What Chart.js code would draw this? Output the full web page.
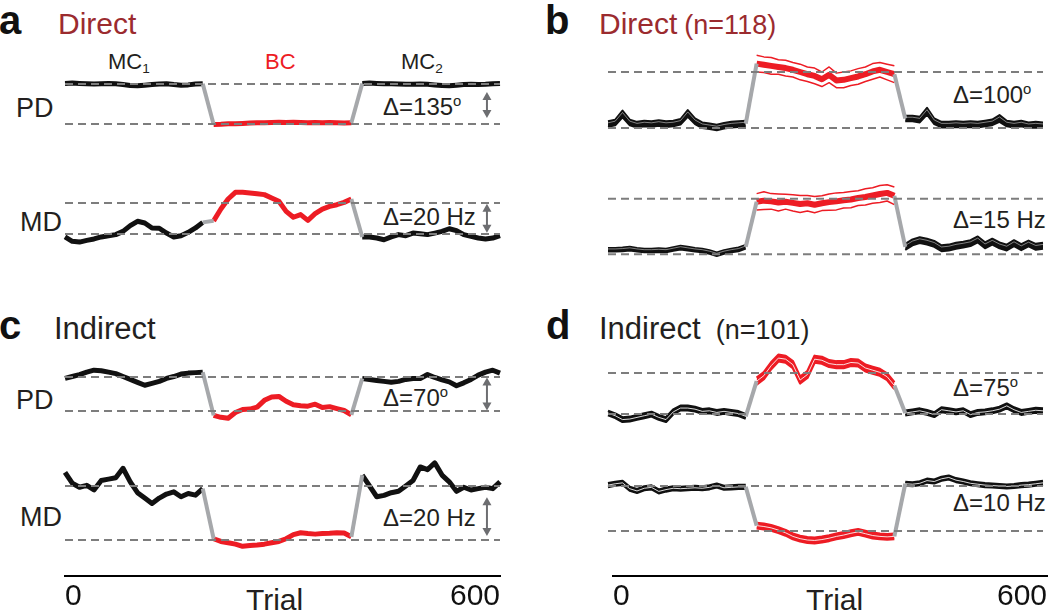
<!DOCTYPE html>
<html lang="en">
<head>
<meta charset="UTF-8">
<title>Direct / Indirect tuning changes</title>
<script src="https://cdn.jsdelivr.net/npm/chart.js"></script>
<style>
  body { margin: 0; background: #fff; }
  #fig { position: relative; width: 1050px; height: 614px; overflow: hidden;
         font-family: "Liberation Sans", Arial, sans-serif; color: #231f20; }
  #fig canvas { position: absolute; }
  .t { position: absolute; white-space: nowrap; line-height: 1; }
  .letter { font-weight: bold; font-size: 40px; color: #111; }
  .title { font-size: 30px; }
  .n { font-size: 27px; }
  .lab { font-size: 27px; }
  .small { font-size: 22px; }
  .delta { font-size: 24px; }
  .red { color: #ed1c24; }
  .dred { color: #9b2b2f; }
  sup { font-size: 0.62em; vertical-align: 0.6em; line-height: 0; }
  sub { font-size: 0.62em; vertical-align: -0.3em; line-height: 0; }
</style>
</head>
<body>
<div id="fig">
  <!-- panel a -->
  <div class="t letter" style="left:-1px; top:0px;">a</div>
  <div class="t title dred" style="left:58px; top:9px;">Direct</div>
  <div class="t small" style="left:108px; top:51px;">MC<sub>1</sub></div>
  <div class="t small red" style="left:265px; top:51px;">BC</div>
  <div class="t small" style="left:401px; top:51px;">MC<sub>2</sub></div>
  <div class="t lab" style="left:16px; top:95px;">PD</div>
  <div class="t delta" style="left:383px; top:95px;">&Delta;=135<sup>o</sup></div>
  <div class="t lab" style="left:20px; top:209px;">MD</div>
  <div class="t delta" style="left:383px; top:205px;">&Delta;=20 Hz</div>

  <!-- panel b -->
  <div class="t letter" style="left:545px; top:0px;">b</div>
  <div class="t title dred" style="left:599px; top:9px;">Direct<span class="n" style="margin-left:7px;">(n=118)</span></div>
  <div class="t delta" style="left:953px; top:83px;">&Delta;=100<sup>o</sup></div>
  <div class="t delta" style="left:953px; top:208px;">&Delta;=15 Hz</div>

  <!-- panel c -->
  <div class="t letter" style="left:-1px; top:305px;">c</div>
  <div class="t title" style="left:54px; top:313px; font-size:31px;">Indirect</div>
  <div class="t lab" style="left:16px; top:387px;">PD</div>
  <div class="t delta" style="left:383px; top:386px;">&Delta;=70<sup>o</sup></div>
  <div class="t lab" style="left:20px; top:504px;">MD</div>
  <div class="t delta" style="left:383px; top:506px;">&Delta;=20 Hz</div>
  <div class="t" style="left:246px; top:585px; font-size:30px;">Trial</div>

  <!-- panel d -->
  <div class="t letter" style="left:546px; top:305px;">d</div>
  <div class="t title" style="left:599px; top:313px; font-size:31px;">Indirect<span class="n" style="margin-left:15px;">(n=101)</span></div>
  <div class="t delta" style="left:953px; top:376px;">&Delta;=75<sup>o</sup></div>
  <div class="t delta" style="left:953px; top:491px;">&Delta;=10 Hz</div>
  <div class="t" style="left:806px; top:585px; font-size:30px;">Trial</div>
</div>

<script>
  // trial positions of each block
  const mc1Trials = [0, 10, 20, 30, 40, 50, 60, 70, 80, 90, 100, 110, 120, 130, 140, 150, 160, 170, 180, 190];
  const bcTrials = [205, 215, 225, 235, 245, 255, 265, 275, 285, 295, 305, 315, 325, 335, 345, 355, 365, 375, 385, 395];
  const mc2Trials = [410, 420, 430, 440, 450, 460, 470, 480, 490, 500, 510, 520, 530, 540, 550, 560, 570, 580, 590, 600];
  const trialTicks = [0, 600];

  // a: Direct, single example cell (PD in deg, MD in Hz, relative to MC baseline)
  const aPdLevels = [-135, 0];
  const aPdMc1 = [2, 3, 2, 1, 0, 1, 2, 1, -2, -5, -6, -4, -2, 0, 1, -2, -4, -3, 0, 1];
  const aPdBc = [-137, -136, -134, -134, -133, -132, -131, -131, -130, -129, -130, -129, -130, -131, -130, -131, -130, -131, -132, -131];
  const aPdMc2 = [2, 3, 2, 1, 1, 0, -1, -1, 0, -1, -3, -5, -6, -4, -2, -1, -2, -1, 1, 2];
  const aMdLevels = [0, 20];
  const aMdMc1 = [-1.9, -4.7, -5.2, -4.1, -3.2, -1.9, -1.1, -0.4, 1.7, 5.4, 8.2, 7.1, 3.9, 3.7, 0.6, -1.9, -1.1, 1.1, 3.9, 7.5];
  const aMdBc = [8.5, 16.1, 22.6, 26.9, 26.9, 26.5, 26.0, 25.4, 23.2, 21.1, 14.6, 10.8, 12.5, 8.8, 13.1, 16.1, 17.8, 18.9, 20.4, 22.6];
  const aMdMc2 = [-1.9, -1.9, -2.6, -3.7, -1.9, -0.4, -1.1, 0.6, 0.2, -0.4, 0.6, 1.7, 3.4, 2.2, -0.4, -1.5, -2.6, -3.2, -2.6, -1.1];

  // b: Direct population mean +/- SEM (n=118)
  const bPdLevels = [0, 100];
  const bPdMc1 = [7, 10, 25, 10, 6, 8, 7, 9, 7, 8, 11, 26, 12, 5, 3, 1, 4, 6, 7, 8];
  const bPdMc1Sem = [5, 5, 6, 5, 5, 5, 5, 5, 5, 5, 5, 6, 5, 5, 5, 5, 5, 5, 5, 5];
  const bPdBc = [115, 113, 111, 109, 107, 104, 100, 96, 93, 87, 95, 85, 86, 89, 92, 96, 101, 104, 100, 96];
  const bPdBcSem = [15, 14, 15, 13, 14, 13, 14, 13, 14, 13, 14, 13, 14, 13, 14, 13, 14, 13, 14, 15];
  const bPdMc2 = [17, 17, 15, 30, 12, 6, 6, 7, 6, 7, 6, 8, 10, 17, 8, 6, 8, 5, 6, 5];
  const bPdMc2Sem = [5, 5, 5, 6, 5, 5, 5, 5, 5, 5, 5, 5, 5, 6, 5, 5, 5, 5, 5, 5];
  const bMdLevels = [0, 15];
  const bMdMc1 = [1.2, 1.2, 1.3, 1.5, 1.2, 1.0, 1.0, 1.1, 1.0, 1.4, 1.8, 1.5, 1.2, 1.0, 0.6, 0.0, 0.6, 1.0, 1.3, 2.0];
  const bMdMc1Sem = [0.5, 0.5, 0.5, 0.5, 0.5, 0.5, 0.5, 0.5, 0.5, 0.5, 0.5, 0.5, 0.5, 0.5, 0.5, 0.5, 0.5, 0.5, 0.5, 0.5];
  const bMdBc = [14.2, 14.5, 14.3, 14.0, 14.2, 13.9, 13.6, 13.8, 13.4, 13.8, 14.1, 14.3, 14.6, 14.8, 15.2, 15.5, 15.9, 16.3, 16.6, 15.8];
  const bMdBcSem = [2.2, 2.4, 2.1, 2.3, 2.0, 2.2, 2.3, 2.1, 2.2, 2.0, 2.2, 2.3, 2.1, 2.2, 2.0, 2.2, 2.1, 2.3, 2.2, 2.4];
  const bMdMc2 = [2.0, 3.2, 3.8, 3.4, 2.8, 1.6, 1.8, 2.3, 2.6, 3.0, 4.0, 2.4, 3.4, 2.4, 1.8, 3.0, 1.9, 2.9, 2.0, 2.3];
  const bMdMc2Sem = [0.8, 0.8, 0.8, 0.8, 0.8, 0.8, 0.8, 0.8, 0.8, 0.8, 0.8, 0.8, 0.8, 0.8, 0.8, 0.8, 0.8, 0.8, 0.8, 0.8];

  // c: Indirect, single example cell
  const cPdLevels = [-70, 0];
  const cPdMc1 = [-3, 1, 5, 10, 14, 13, 10, 7, 1, -5, -11, -17, -13, -9, -3, 1, 6, 8, 9, 10];
  const cPdBc = [-79, -83, -85, -73, -67, -66, -62, -48, -41, -40, -50, -57, -59, -60, -56, -63, -61, -65, -69, -78];
  const cPdMc2 = [-3, -5, -7, -9, -11, -9, -5, -3, -3, 5, -1, -6, -10, -18, -12, -5, 4, 10, 14, 8];
  const cMdLevels = [-20, 0];
  const cMdMc1 = [5, 1, -0.5, 0.2, -1.5, 2, 2.5, 3, 6.5, 1.5, -2.5, -4.5, -6.5, -4.5, -3, -2.2, -4, -2.8, -3.4, -1];
  const cMdBc = [-19.5, -20.5, -21, -21.5, -22.3, -22, -21.8, -21.5, -21, -20.5, -19.5, -18, -17.3, -17.6, -17.8, -17.6, -17.5, -17.3, -17.4, -18.8];
  const cMdMc2 = [4, 0, -4, -3.5, -2.5, -2, 0, 2, 7, 6, 8.5, 4, 1.5, -2, -0.5, -1.5, -1, -0.5, -1, 1.5];

  // d: Indirect population mean +/- SEM (n=101)
  const dPdLevels = [0, 75];
  const dPdMc1 = [2, -3, -10, -9, -6, -3, 0, -6, -10, 4, 11, 11, 9, 5, 6, 3, 5, 3, 1, -4];
  const dPdMc1Sem = [4, 4, 4, 4, 4, 4, 4, 4, 4, 4, 4, 4, 4, 4, 4, 4, 4, 4, 4, 4];
  const dPdBc = [60, 70, 88, 102, 100, 90, 62, 72, 100, 98, 92, 90, 90, 94, 93, 84, 80, 76, 68, 52];
  const dPdBcSem = [6, 6, 6, 6, 6, 6, 6, 6, 6, 6, 6, 6, 6, 6, 6, 6, 6, 6, 6, 6];
  const dPdMc2 = [2, 4, 6, 3, -1, 8, 6, 4, 6, -1, 3, 4, 6, 9, 15, 8, 3, 5, 7, 6];
  const dPdMc2Sem = [4, 4, 4, 4, 4, 4, 4, 4, 4, 4, 4, 4, 4, 4, 4, 4, 4, 4, 4, 4];
  const dMdLevels = [-10, 0];
  const dMdMc1 = [0.2, 0.5, 0.7, -0.6, -1.1, -0.5, -0.3, -1.2, -0.8, -0.5, -0.6, -0.5, -0.4, -0.5, -0.3, 0.1, -0.4, -0.3, -0.2, -0.2];
  const dMdMc1Sem = [0.4, 0.4, 0.4, 0.4, 0.4, 0.4, 0.4, 0.4, 0.4, 0.4, 0.4, 0.4, 0.4, 0.4, 0.4, 0.4, 0.4, 0.4, 0.4, 0.4];
  const dMdBc = [-8.8, -9, -9.3, -9.8, -10.4, -11.2, -11.7, -12, -12.1, -11.9, -11.6, -11.2, -10.9, -10.5, -10.2, -10.6, -11, -11.2, -11.3, -11.2];
  const dMdBcSem = [0.6, 0.6, 0.6, 0.6, 0.6, 0.6, 0.6, 0.6, 0.6, 0.6, 0.6, 0.6, 0.6, 0.6, 0.6, 0.6, 0.6, 0.6, 0.6, 0.6];
  const dMdMc2 = [0.5, 0.4, 0.6, 1.2, 1.0, 1.6, 1.9, 1.3, 1.0, 0.6, 0.4, 0.2, 0.1, 0, -0.1, 0, 0.2, 0.3, 0.5, 0.7];
  const dMdMc2Sem = [0.4, 0.4, 0.4, 0.4, 0.4, 0.4, 0.4, 0.4, 0.4, 0.4, 0.4, 0.4, 0.4, 0.4, 0.4, 0.4, 0.4, 0.4, 0.4, 0.4];

  const BLACK = "#111111";
  const RED = "#ed1c24";
  const GRAY = "#a6a8ab";
  const DASH = "#7d7d7d";
  const ARROW = "#6d6e71";

  const fig = document.getElementById("fig");

  function pts(xs, ys, sem, sign) {
    return xs.map((x, i) => ({ x: x, y: sem ? ys[i] + sign * sem[i] : ys[i] }));
  }

  function line(data, color, width, extra) {
    return Object.assign({
      data: data, borderColor: color, borderWidth: width, pointRadius: 0,
      tension: 0, fill: false, clip: false, borderJoinStyle: "round", borderCapStyle: "butt"
    }, extra || {});
  }

  // double headed arrow marking the size of the change
  const deltaArrow = {
    id: "deltaArrow",
    afterDatasetsDraw(chart, args, opts) {
      if (!opts || opts.at === undefined) return;
      const ctx = chart.ctx;
      const x = chart.scales.x.getPixelForValue(opts.at);
      const y1 = chart.scales.y.getPixelForValue(opts.from);
      const y2 = chart.scales.y.getPixelForValue(opts.to);
      const top = Math.min(y1, y2), bot = Math.max(y1, y2);
      const hw = 4.5, hh = 8;
      ctx.save();
      ctx.strokeStyle = ARROW;
      ctx.fillStyle = ARROW;
      ctx.lineWidth = 2;
      ctx.beginPath();
      ctx.moveTo(x, top + hh - 1);
      ctx.lineTo(x, bot - hh + 1);
      ctx.stroke();
      ctx.beginPath();
      ctx.moveTo(x, top); ctx.lineTo(x - hw, top + hh); ctx.lineTo(x + hw, top + hh); ctx.closePath();
      ctx.fill();
      ctx.beginPath();
      ctx.moveTo(x, bot); ctx.lineTo(x - hw, bot - hh); ctx.lineTo(x + hw, bot - hh); ctx.closePath();
      ctx.fill();
      ctx.restore();
    }
  };

  function makeCanvas(left, top, width, height) {
    const c = document.createElement("canvas");
    c.width = width;
    c.height = height;
    c.style.left = left + "px";
    c.style.top = top + "px";
    fig.appendChild(c);
    return c;
  }

  // filled mean +/- SEM band: upper edge fills down to the lower edge
  function band(datasets, xs, ys, sem, col, width) {
    datasets.push(line(pts(xs, ys, sem, 1), col, width, { fill: "+1", backgroundColor: col }));
    datasets.push(line(pts(xs, ys, sem, -1), col, width));
  }

  // one trace panel: area = pixel box spanned by the two dashed reference levels;
  // the y range is widened by a margin so fills are not clipped
  function tracePlot(area, levels, mc1, bc, mc2, sems, style, arrow) {
    const margin = 40;
    const unitPerPx = (levels[1] - levels[0]) / (area.bottom - area.top);
    const canvas = makeCanvas(area.left - 25, area.top - margin,
      area.right - area.left + 25 + area.padR, area.bottom - area.top + 2 * margin);

    const datasets = [];
    levels.forEach(v => {
      datasets.push(line([{ x: 0, y: v }, { x: 600, y: v }], DASH, 2, { borderDash: [8, 5] }));
    });
    const last = mc1.length - 1;
    datasets.push(line([{ x: mc1Trials[last], y: mc1[last] }, { x: bcTrials[0], y: bc[0] }], GRAY, 4));
    datasets.push(line([{ x: bcTrials[last], y: bc[last] }, { x: mc2Trials[0], y: mc2[0] }], GRAY, 4));

    const blocks = [[mc1Trials, mc1, BLACK, 0], [bcTrials, bc, RED, 1], [mc2Trials, mc2, BLACK, 2]];
    if (style === "single") {
      blocks.forEach(([xs, ys, col]) => datasets.push(line(pts(xs, ys), col, 5)));
    } else if (style === "semB") {
      blocks.forEach(([xs, ys, col, k]) => {
        if (col === RED) {
          datasets.push(line(pts(xs, ys), col, 6));
          datasets.push(line(pts(xs, ys, sems[k], 1), col, 1.5));
          datasets.push(line(pts(xs, ys, sems[k], -1), col, 1.5));
        } else {
          datasets.push(line(pts(xs, ys, sems[k], 0.45), "rgba(255,255,255,0.6)", 0.8));
          band(datasets, xs, ys, sems[k], col, 2);
        }
      });
    } else {
      blocks.forEach(([xs, ys]) => datasets.push(line(pts(xs, ys), "rgba(255,255,255,0.85)", 1)));
      blocks.forEach(([xs, ys, col, k]) => band(datasets, xs, ys, sems[k], col, 2.5));
    }

    new Chart(canvas, {
      type: "line",
      data: { datasets: datasets },
      plugins: [deltaArrow],
      options: {
        responsive: false,
        devicePixelRatio: 1,
        animation: false,
        layout: { padding: { left: 25, right: area.padR, top: 0, bottom: 0 } },
        scales: {
          x: { type: "linear", min: 0, max: 600, display: false },
          y: { type: "linear", display: false,
               min: levels[0] - margin * unitPerPx, max: levels[1] + margin * unitPerPx }
        },
        plugins: {
          legend: { display: false },
          tooltip: { enabled: false },
          filler: { propagate: false },
          deltaArrow: arrow || {}
        }
      }
    });
  }

  function trialAxis(left, right, lineY, padR) {
    const axisH = 39;
    const areaH = 25;
    const canvas = makeCanvas(left - 25, lineY - areaH, right - left + 25 + padR, areaH + axisH);
    new Chart(canvas, {
      type: "line",
      data: { datasets: [] },
      options: {
        responsive: false,
        devicePixelRatio: 1,
        animation: false,
        layout: { padding: { left: 25, right: padR, top: 0, bottom: 0 } },
        scales: {
          x: {
            type: "linear", min: 0, max: 600, position: "bottom",
            afterBuildTicks: axis => { axis.ticks = trialTicks.map(v => ({ value: v })); },
            grid: { display: false, drawTicks: false },
            border: { display: true, color: "#000", width: 2 },
            ticks: { align: "inner", padding: 3, maxRotation: 0, color: "#111",
                     font: { family: "Liberation Sans", size: 30 } }
          },
          y: { display: false, min: 0, max: 1 }
        },
        plugins: { legend: { display: false }, tooltip: { enabled: false } }
      }
    });
  }

  const leftCol = { left: 65, right: 500, padR: 25 };
  const rightCol = { left: 608, right: 1043, padR: 7 };

  tracePlot(Object.assign({ top: 84, bottom: 124 }, leftCol), aPdLevels, aPdMc1, aPdBc, aPdMc2, null, "single",
    { at: 582, from: -27, to: -115 });
  tracePlot(Object.assign({ top: 203.3, bottom: 234.3 }, leftCol), aMdLevels, aMdMc1, aMdBc, aMdMc2, null, "single",
    { at: 582, from: 19.5, to: 0.8 });

  tracePlot(Object.assign({ top: 72, bottom: 128 }, rightCol), bPdLevels, bPdMc1, bPdBc, bPdMc2,
    [bPdMc1Sem, bPdBcSem, bPdMc2Sem], "semB");
  tracePlot(Object.assign({ top: 199.3, bottom: 255 }, rightCol), bMdLevels, bMdMc1, bMdBc, bMdMc2,
    [bMdMc1Sem, bMdBcSem, bMdMc2Sem], "semB");

  tracePlot(Object.assign({ top: 376.7, bottom: 410.7 }, leftCol), cPdLevels, cPdMc1, cPdBc, cPdMc2, null, "single",
    { at: 582, from: -1, to: -69 });
  tracePlot(Object.assign({ top: 485.7, bottom: 540 }, leftCol), cMdLevels, cMdMc1, cMdBc, cMdMc2, null, "single",
    { at: 582, from: -4.2, to: -18.5 });

  tracePlot(Object.assign({ top: 372.7, bottom: 414 }, rightCol), dPdLevels, dPdMc1, dPdBc, dPdMc2,
    [dPdMc1Sem, dPdBcSem, dPdMc2Sem], "semD");
  tracePlot(Object.assign({ top: 485.7, bottom: 530.7 }, rightCol), dMdLevels, dMdMc1, dMdBc, dMdMc2,
    [dMdMc1Sem, dMdBcSem, dMdMc2Sem], "semD");

  trialAxis(65, 500, 569, 25);
  trialAxis(613, 1047, 569, 3);
</script>
</body>
</html>
